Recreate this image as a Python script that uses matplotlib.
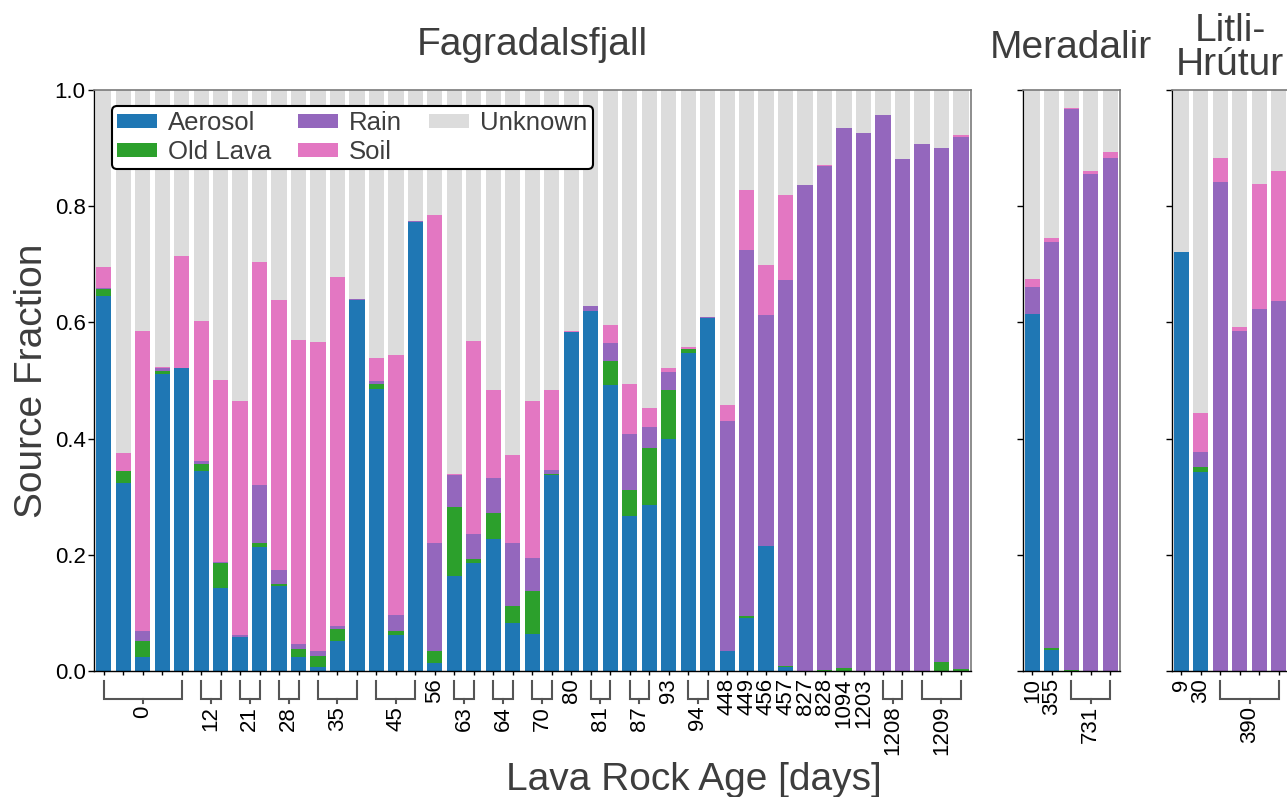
import matplotlib
matplotlib.use("Agg")
import matplotlib.pyplot as plt
import matplotlib.transforms as mtransforms
import numpy as np

plt.rcParams['font.family'] = ['Liberation Sans', 'DejaVu Sans']

# ---- Fagradalsfjall ----
fag_age = [0, 0, 0, 0, 0, 12, 12, 21, 21, 28, 28, 35, 35, 35, 45, 45, 45,
           56, 63, 63, 64, 64, 70, 70, 80, 81, 81, 87, 87, 93, 94, 94,
           448, 449, 456, 457, 827, 828, 1094, 1203, 1208, 1208, 1209, 1209, 1209]
fag_aerosol = [0.646, 0.324, 0.025, 0.512, 0.522, 0.345, 0.144, 0.060, 0.214, 0.147,
               0.025, 0.007, 0.052, 0.638, 0.485, 0.062, 0.772, 0.014, 0.164, 0.187,
               0.228, 0.083, 0.064, 0.338, 0.583, 0.619, 0.492, 0.268, 0.286, 0.400,
               0.547, 0.607, 0.036, 0.092, 0.215, 0.008, 0.0, 0.0, 0.0, 0.0,
               0.0, 0.0, 0.0, 0.0, 0.0]
fag_old_lava = [0.011, 0.020, 0.027, 0.005, 0.0, 0.012, 0.043, 0.0, 0.007, 0.004,
                0.014, 0.020, 0.021, 0.0, 0.009, 0.008, 0.0, 0.021, 0.119, 0.006,
                0.044, 0.029, 0.074, 0.002, 0.0, 0.0, 0.042, 0.044, 0.098, 0.084,
                0.007, 0.0, 0.0, 0.003, 0.0, 0.002, 0.0, 0.002, 0.006, 0.0,
                0.0, 0.001, 0.001, 0.016, 0.005]
fag_rain = [0.002, 0.0, 0.018, 0.004, 0.0, 0.005, 0.002, 0.002, 0.099, 0.023,
            0.008, 0.008, 0.005, 0.002, 0.005, 0.027, 0.002, 0.185, 0.055, 0.043,
            0.060, 0.108, 0.057, 0.007, 0.0, 0.009, 0.030, 0.096, 0.036, 0.030,
            0.001, 0.002, 0.394, 0.629, 0.398, 0.662, 0.836, 0.866, 0.928, 0.925,
            0.957, 0.880, 0.906, 0.883, 0.913]
fag_soil = [0.036, 0.031, 0.515, 0.002, 0.192, 0.240, 0.312, 0.403, 0.384, 0.464,
            0.523, 0.531, 0.600, 0.0, 0.040, 0.447, 0.0, 0.564, 0.002, 0.332,
            0.152, 0.152, 0.270, 0.137, 0.002, 0.0, 0.032, 0.086, 0.033, 0.007,
            0.002, 0.0, 0.028, 0.104, 0.086, 0.146, 0.0, 0.002, 0.0, 0.0,
            0.0, 0.0, 0.0, 0.0, 0.004]

# ---- Meradalir ----
mer_age = [10, 355, 731, 731, 731]
mer_aerosol = [0.614, 0.037, 0.0, 0.0, 0.0]
mer_old_lava = [0.0, 0.003, 0.002, 0.0, 0.0]
mer_rain = [0.047, 0.698, 0.964, 0.855, 0.882]
mer_soil = [0.014, 0.007, 0.002, 0.005, 0.011]

# ---- Litli-Hrútur ----
lit_age = [9, 30, 390, 390, 390, 390]
lit_aerosol = [0.721, 0.343, 0.0, 0.0, 0.001, 0.0]
lit_old_lava = [0.0, 0.008, 0.0, 0.0, 0.0, 0.001]
lit_rain = [0.0, 0.026, 0.841, 0.585, 0.622, 0.635]
lit_soil = [0.0, 0.068, 0.041, 0.007, 0.215, 0.224]

source_names = ["Aerosol", "Old Lava", "Rain", "Soil", "Unknown"]
source_colors = ["#1f77b4", "#2ca02c", "#9467bd", "#e377c2", "#dcdcdc"]

TEXT_GRAY = "#3d3d3d"
BRACKET = "#555555"
TICK_FS = 16

fig = plt.figure(figsize=(12.87, 7.97), dpi=100)

bottom, height = 0.15747, 0.7302
ax1 = fig.add_axes([0.0730, bottom, 0.6812, height])
ax2 = fig.add_axes([0.7946, bottom, 0.0756, height])
ax3 = fig.add_axes([0.9104, bottom, 0.0908, height])


def group_runs(ages):
    runs = []
    start = 0
    for i in range(1, len(ages) + 1):
        if i == len(ages) or ages[i] != ages[start]:
            runs.append((ages[start], start, i - 1))
            start = i
    return runs


def draw_panel(ax, ages, aerosol, old_lava, rain, soil, show_ylabels):
    x = np.arange(len(ages))
    parts = [np.array(aerosol), np.array(old_lava), np.array(rain), np.array(soil)]
    parts.append(1.0 - sum(parts))
    base = np.zeros(len(ages))
    handles = []
    for vals, name, col in zip(parts, source_names, source_colors):
        h = ax.bar(x, vals, bottom=base, width=0.78, color=col, label=name,
                   linewidth=0)
        handles.append(h)
        base = base + vals

    ax.set_xlim(-0.5, len(ages) - 0.5)
    ax.set_ylim(0, 1)
    ax.set_yticks([0, 0.2, 0.4, 0.6, 0.8, 1.0])
    if show_ylabels:
        ax.set_yticklabels(["0.0", "0.2", "0.4", "0.6", "0.8", "1.0"])
    else:
        ax.set_yticklabels([])
    ax.set_xticks(x)
    ax.set_xticklabels([])
    ax.tick_params(axis='x', length=3, width=1, color='black')
    ax.tick_params(axis='y', length=4.5, width=1, color='black',
                   labelsize=TICK_FS, pad=1.5)
    for side in ("left", "bottom"):
        ax.spines[side].set_color("black")
        ax.spines[side].set_linewidth(1.0)
    for side in ("top", "right"):
        ax.spines[side].set_color("#7a7a7a")
        ax.spines[side].set_linewidth(1.2)

    # age labels under the bars; repeated ages share one bracketed label
    trans = mtransforms.blended_transform_factory(ax.transData, ax.transAxes)
    y_top, y_bar, y_tick = -0.0158, -0.0478, -0.0536
    for age, i0, i1 in group_runs(ages):
        if i0 == i1:
            ax.text(i0, -0.0117, str(age), transform=trans, rotation=90,
                    ha='center', va='top', fontsize=TICK_FS, color='black')
        else:
            xm = (i0 + i1) / 2
            ax.plot([i0, i0, i1, i1], [y_top, y_bar, y_bar, y_top],
                    transform=trans, color=BRACKET, lw=1.5, clip_on=False,
                    solid_joinstyle='miter')
            ax.plot([xm, xm], [y_bar, y_tick], transform=trans, color=BRACKET,
                    lw=1.5, clip_on=False)
            ax.text(xm, -0.059, str(age), transform=trans, rotation=90,
                    ha='center', va='top', fontsize=TICK_FS, color='black')
    return handles


handles = draw_panel(ax1, fag_age, fag_aerosol, fag_old_lava, fag_rain, fag_soil, True)
draw_panel(ax2, mer_age, mer_aerosol, mer_old_lava, mer_rain, mer_soil, False)
draw_panel(ax3, lit_age, lit_aerosol, lit_old_lava, lit_rain, lit_soil, False)

ax1.text(0.5, 1.0593, "Fagradalsfjall", transform=ax1.transAxes, ha='center',
         va='baseline', fontsize=28, color=TEXT_GRAY)
ax2.text(0.5, 1.0541, "Meradalir", transform=ax2.transAxes, ha='center',
         va='baseline', fontsize=28, color=TEXT_GRAY)
ax3.text(0.5, 1.025, "Litli-\nHrútur", transform=ax3.transAxes, ha='center',
         va='baseline', fontsize=28, color=TEXT_GRAY, linespacing=0.93)

fig.text(0.025, 0.5224, "Source Fraction", rotation=90, ha='center', va='center',
         fontsize=28, color=TEXT_GRAY)
fig.text(0.539, 0.0088, "Lava Rock Age [days]", ha='center', va='baseline',
         fontsize=28, color=TEXT_GRAY)

leg = ax1.legend(handles=handles, loc='upper left', ncol=3,
                 bbox_to_anchor=(0.0202, 0.5, 0.5487, 0.472), mode='expand',
                 borderaxespad=0, fontsize=18.5, handlelength=1.55,
                 handleheight=0.5, handletextpad=0.43, labelspacing=0.2,
                 borderpad=0.2, fancybox=True, framealpha=1)
leg.get_frame().set_edgecolor('black')
leg.get_frame().set_linewidth(1.5)
for t in leg.get_texts():
    t.set_color(TEXT_GRAY)

fig.savefig("out.png", dpi=100)
